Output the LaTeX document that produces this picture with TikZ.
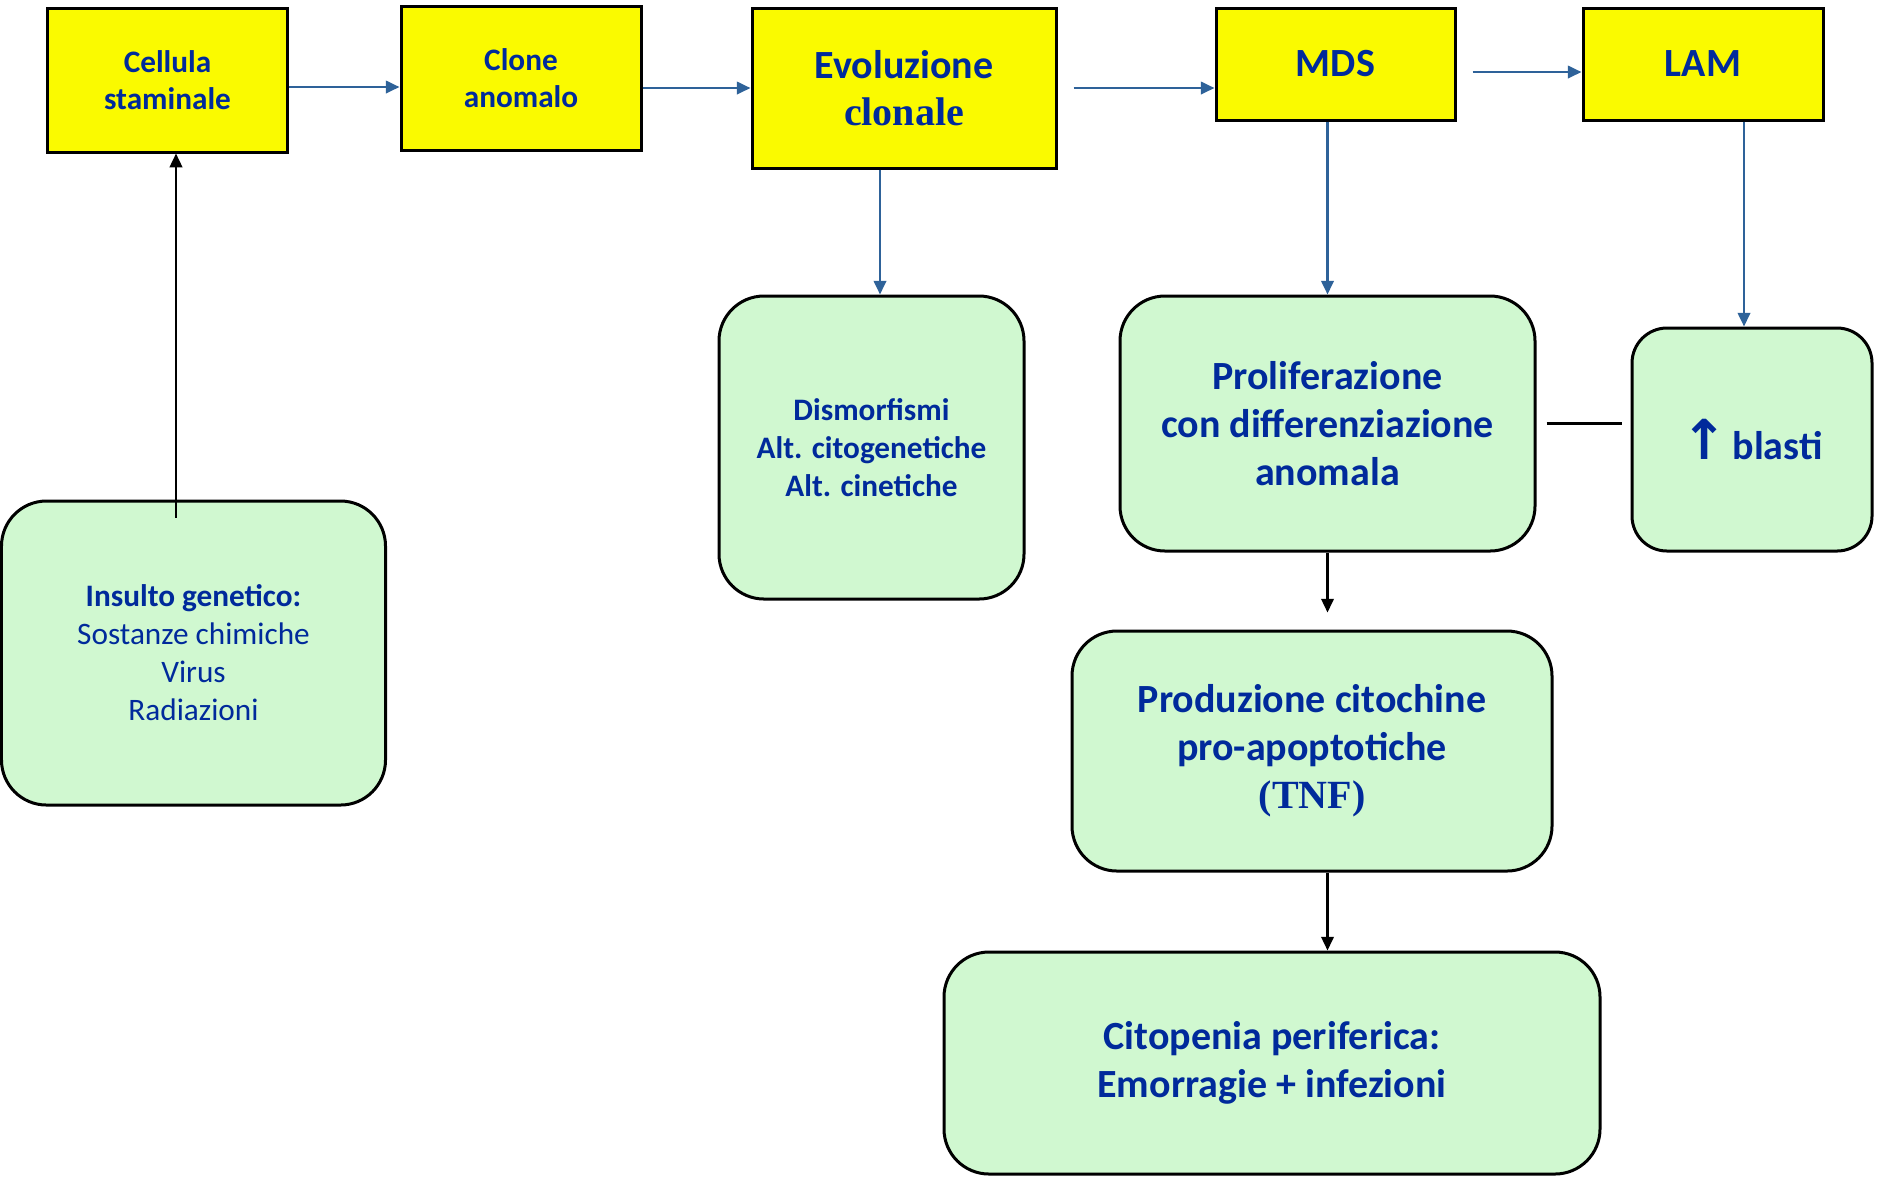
\documentclass[tikz,border=0pt]{standalone}
\usepackage{fontspec}
\setmainfont{Carlito}
\newfontfamily\serifb{Liberation Serif}
\newfontfamily\symf{DejaVu Sans}
\usetikzlibrary{arrows.meta,calc}
\definecolor{txtblue}{RGB}{0,42,155}
\definecolor{arrblue}{RGB}{46,98,153}
\definecolor{boxyellow}{RGB}{250,250,0}
\definecolor{boxgreen}{RGB}{208,248,208}
\tikzset{
  ybox/.style={draw=black, line width=1.2pt, fill=boxyellow, align=center, text=txtblue, font=\bfseries},
  gbox/.style={draw=black, line width=1.2pt, fill=boxgreen, rounded corners=18pt, align=center, text=txtblue, font=\bfseries},
  barrow/.style={draw=arrblue, line width=1pt, -{Triangle[length=5.5pt,width=5pt]}},
  karrow/.style={draw=black, line width=0.9pt, -{Triangle[length=5.5pt,width=5pt]}},
  kline/.style={draw=black, line width=1.2pt}
}
\begin{document}
\begin{tikzpicture}[x=0.4pt,y=-0.4pt]
\useasboundingbox (0,0) rectangle (1878,1176);
% yellow boxes
\node[ybox, minimum width=95.6pt, minimum height=57.6pt, font=\bfseries\fontsize{12.5}{15}\selectfont] (cell) at (167.5,80) {Cellula\\staminale};
\node[ybox, minimum width=96pt, minimum height=57.6pt, font=\bfseries\fontsize{12.5}{15}\selectfont] (clone) at (521,78) {Clone\\anomalo};
\node[ybox, minimum width=121.6pt, minimum height=64pt, font=\bfseries\fontsize{16}{19}\selectfont] (evol) at (904,88) {Evoluzione\\{\serifb\bfseries clonale}};
\node[ybox, minimum width=95.6pt, minimum height=44.8pt, font=\bfseries\fontsize{16}{19}\selectfont] (mds) at (1335.5,64) {MDS};
\node[ybox, minimum width=96pt, minimum height=44.8pt, font=\bfseries\fontsize{16}{19}\selectfont] (lam) at (1703,64) {LAM};
% green boxes
\node[gbox, minimum width=122pt, minimum height=121.2pt, font=\bfseries\fontsize{12.5}{15.2}\selectfont] (dism) at (871.5,447.5) {Dismorfismi\\Alt. citogenetiche\\Alt. cinetiche};
\node[gbox, minimum width=166pt, minimum height=102pt, font=\bfseries\fontsize{16}{19.2}\selectfont] (prolif) at (1327.5,423.5) {Proliferazione\\con differenziazione\\anomala};
\node[gbox, rounded corners=14pt, minimum width=96pt, minimum height=89.2pt, font=\bfseries\fontsize{16}{19.2}\selectfont] (blasti) at (1752,439.5) {{\symf\bfseries\fontsize{22}{22}\selectfont ↑}\hspace{2pt}blasti};
\node[gbox, minimum width=153.6pt, minimum height=121.6pt, font=\fontsize{12.5}{15.2}\selectfont] (insulto) at (193.5,653) {{\bfseries Insulto genetico:}\\Sostanze chimiche\\Virus\\Radiazioni};
\node[gbox, minimum width=192pt, minimum height=96pt, font=\bfseries\fontsize{16}{19.2}\selectfont] (prod) at (1312,751) {Produzione citochine\\pro-apoptotiche\\{\serifb\bfseries (TNF)}};
\node[gbox, minimum width=262.4pt, minimum height=88.8pt, font=\bfseries\fontsize{16}{19.2}\selectfont] (cito) at (1272,1063) {Citopenia periferica:\\Emorragie + infezioni};
% top row arrows
\draw[barrow] ([yshift=-2.8pt]cell.east) -- ([yshift=-2.8pt]cell.east -| clone.west);
\draw[barrow] (clone.east |- evol.west) -- (evol.west);
\draw[barrow] ([xshift=6.4pt]evol.east) -- (evol.east -| mds.west);
\draw[barrow] ([xshift=6.4pt,yshift=-3.2pt]mds.east) -- ([yshift=-3.2pt]mds.east -| lam.west);
% down arrows
\draw[barrow] ([xshift=-9.6pt]evol.south) -- ([xshift=-9.6pt]evol.south |- dism.north);
\draw[barrow] (mds.south -| prolif.north) -- (prolif.north);
\draw[barrow] ([xshift=-3.2pt]lam.south -| blasti.north) -- ([xshift=-3.2pt]blasti.north);
% connector between prolif and blasti
\draw[kline] ([xshift=4pt]prolif.east) -- ([xshift=-3.6pt]prolif.east -| blasti.west);
% insulto up
\coordinate (insstart) at ([xshift=-7pt,yshift=-7.2pt]insulto.north);
\draw[karrow] (insstart) -- (insstart |- cell.south);
% black down arrows
\draw[karrow] (prolif.south) -- ([yshift=6.8pt]prolif.south |- prod.north);
\draw[karrow] (prod.south -| prolif.south) -- (prolif.south |- cito.north);
\end{tikzpicture}
\end{document}
